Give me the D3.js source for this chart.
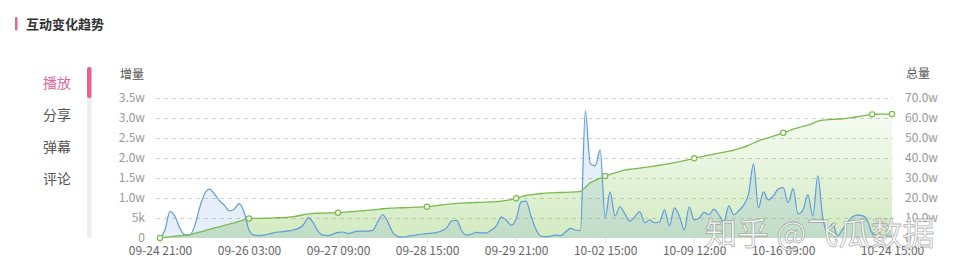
<!DOCTYPE html>
<html lang="zh">
<head>
<meta charset="utf-8">
<title>互动变化趋势</title>
<script src="https://cdn.jsdelivr.net/npm/d3@7/dist/d3.min.js"></script>
<style>
 body { margin: 0; background: #fff; font-family: "Noto Sans CJK SC", "Noto Sans", sans-serif; }
 svg { display: block; }
</style>
</head>
<body>
<script>
// tabs on the left
const tabs = ['播放', '分享', '弹幕', '评论'];

// x axis: tick labels and the category index they sit on
const xTickLabels = ['09-24 21:00', '09-26 03:00', '09-27 09:00', '09-28 15:00', '09-29 21:00',
                     '10-02 15:00', '10-09 12:00', '10-16 09:00', '10-24 15:00'];
const xTickIndex = [0, 18, 36, 54, 72, 90, 108, 126, 148];
const symbolIndex = [0, 18, 36, 54, 72, 90, 108, 126, 144, 148];

// left axis (增量)
const leftTicks = [0, 5000, 10000, 15000, 20000, 25000, 30000, 35000];
const leftTickLabels = ['0', '5k', '1.0w', '1.5w', '2.0w', '2.5w', '3.0w', '3.5w'];
// right axis (总量)
const rightTicks = [0, 100000, 200000, 300000, 400000, 500000, 600000, 700000];
const rightTickLabels = ['0', '10.0w', '20.0w', '30.0w', '40.0w', '50.0w', '60.0w', '70.0w'];

// 增量 (in w = 10k), one value per category
const increment = [
  0, 0.2, 0.66, 0.55, 0.25, 0.08, 0.07, 0.3, 0.75, 1.1,
  1.22, 1.1, 0.93, 0.82, 0.68, 0.72, 0.86, 0.65, 0.2, 0.07,
  0.06, 0.07, 0.1, 0.13, 0.15, 0.16, 0.18, 0.2, 0.24, 0.33,
  0.51, 0.38, 0.16, 0.07, 0.06, 0.1, 0.14, 0.15, 0.11, 0.14,
  0.17, 0.17, 0.17, 0.19, 0.4, 0.58, 0.42, 0.15, 0.04, 0.02,
  0.04, 0.06, 0.08, 0.1, 0.11, 0.12, 0.14, 0.18, 0.26, 0.43,
  0.44, 0.18, 0.07, 0.1, 0.14, 0.13, 0.13, 0.2, 0.3, 0.52,
  0.45, 0.32, 0.47, 0.9, 0.92, 0.55, 0.22, 0.05, 0.03, 0.05,
  0.07, 0.06, 0.15, 0.24, 0.2, 0.18, 3.17, 1.85, 1.8, 2.2,
  0.5, 1.15, 0.55, 0.78, 0.6, 0.42, 0.53, 0.66, 0.38, 0.45,
  0.38, 0.4, 0.7, 0.3, 0.75, 0.55, 0.2, 0.78, 0.45, 0.5,
  0.64, 0.58, 0.72, 0.58, 0.4, 0.8, 0.58, 0.68, 0.82, 1.1,
  1.85, 0.75, 1.15, 0.95, 1.05, 1.22, 1.26, 0.88, 1.23, 0.6,
  0.7, 1.08, 0.55, 1.55, 0.5, 0.15, 0.35, 0.05, 0.22, 0.38,
  0.53, 0.57, 0.56, 0.45, 0.12, 0.06, 0.05, 0.05, 0.05
];

// 总量 (in w = 10k), one value per category
const total = [
  0, 0.3, 0.6, 0.9, 1.15, 1.4, 1.7, 2.3, 2.9, 3.6,
  4.3, 5.0, 5.6, 6.3, 6.9, 7.6, 8.3, 9.0, 9.7, 9.75,
  9.8, 9.85, 9.9, 10.0, 10.1, 10.2, 10.4, 10.7, 11.1, 11.6,
  12.0, 12.3, 12.35, 12.4, 12.5, 12.55, 12.6, 12.8, 13.0, 13.2,
  13.4, 13.6, 13.8, 14.0, 14.3, 14.6, 14.8, 14.9, 15.0, 15.1,
  15.2, 15.3, 15.4, 15.5, 15.6, 15.9, 16.2, 16.5, 16.8, 17.0,
  17.3, 17.4, 17.5, 17.6, 17.7, 17.8, 17.9, 18.0, 18.1, 18.4,
  18.8, 19.2, 19.8, 20.5, 21.2, 21.6, 21.9, 22.2, 22.4, 22.5,
  22.6, 22.7, 22.8, 22.9, 23.0, 23.2, 25.3, 27.6, 28.8, 29.8,
  30.9, 31.7, 32.5, 33.3, 33.9, 34.3, 34.6, 34.9, 35.2, 35.6,
  35.9, 36.3, 36.7, 37.1, 37.6, 38.1, 38.6, 39.2, 39.8, 40.3,
  40.8, 41.3, 41.8, 42.3, 42.8, 43.3, 43.9, 44.6, 45.3, 46.2,
  47.4, 48.5, 49.3, 50.0, 50.8, 51.6, 52.5, 53.3, 54.3, 55.0,
  55.7, 56.3, 57.2, 58.3, 58.8, 59.0, 59.2, 59.3, 59.5, 59.8,
  60.1, 60.5, 60.9, 61.3, 61.7, 61.75, 61.8, 61.85, 61.9
];

const W = 956, H = 274;
const svg = d3.select('body').append('svg').attr('width', W).attr('height', H);

// title
svg.append('rect').attr('x', 15).attr('y', 17).attr('width', 2.5).attr('height', 13.5)
   .attr('rx', 1).style('fill', '#e9628f');
svg.append('text').attr('x', 26).attr('y', 29)
   .style('font-size', '13px').style('font-weight', 'bold').style('fill', '#333')
   .text('互动变化趋势');

// tabs
svg.selectAll('.tab').data(tabs).enter().append('text')
   .attr('class', 'tab')
   .attr('x', 57).attr('y', (d, i) => 88 + i * 32)
   .attr('text-anchor', 'middle')
   .style('font-size', '14px')
   .style('fill', (d, i) => i === 0 ? '#e0689a' : '#555')
   .text(d => d);
svg.append('rect').attr('x', 87).attr('y', 67).attr('width', 4.5).attr('height', 171).style('fill', '#eeeeee');
svg.append('rect').attr('x', 87).attr('y', 67).attr('width', 4.5).attr('height', 31).attr('rx', 2).style('fill', '#e9628f');

// scales
const x = d3.scaleLinear().domain([0, increment.length - 1]).range([160, 892]);
const yL = d3.scaleLinear().domain([0, 35000]).range([238, 97.7]);
const yR = d3.scaleLinear().domain([0, 700000]).range([238, 97.7]);

// grid
svg.append('g').selectAll('line').data(leftTicks.slice(1)).enter().append('line')
   .attr('x1', 156).attr('x2', 893)
   .attr('y1', d => Math.round(yL(d)) + 0.5).attr('y2', d => Math.round(yL(d)) + 0.5)
   .style('stroke', '#cfcfcf').style('stroke-dasharray', '4,4');

// left axis
const axL = svg.append('g').attr('transform', 'translate(150,0)')
   .call(d3.axisLeft(yL).tickValues(leftTicks).tickSize(0).tickPadding(5)
         .tickFormat((d, i) => leftTickLabels[i]));
axL.select('.domain').remove();
axL.selectAll('text').style('font-size', '12px').style('fill', '#999')
   .style('font-family', '"Noto Sans CJK SC", sans-serif');

// right axis
const axR = svg.append('g').attr('transform', 'translate(900,0)')
   .call(d3.axisRight(yR).tickValues(rightTicks).tickSize(0).tickPadding(5)
         .tickFormat((d, i) => rightTickLabels[i]));
axR.select('.domain').remove();
axR.selectAll('text').style('font-size', '12px').style('fill', '#999')
   .style('font-family', '"Noto Sans CJK SC", sans-serif');

// axis names
svg.append('text').attr('x', 132).attr('y', 79).attr('text-anchor', 'middle')
   .style('font-size', '12px').style('fill', '#555').text('增量');
svg.append('text').attr('x', 918).attr('y', 78).attr('text-anchor', 'middle')
   .style('font-size', '12px').style('fill', '#555').text('总量');

// x axis
const axX = svg.append('g').attr('transform', 'translate(0,238)')
   .call(d3.axisBottom(x).tickValues(xTickIndex).tickSize(5).tickPadding(3)
         .tickFormat((d, i) => xTickLabels[i]));
axX.select('.domain').remove();
axX.selectAll('line').style('stroke', '#e2e2e2');
axX.selectAll('text').style('font-size', '12px').style('fill', '#666')
   .style('font-family', '"Noto Sans CJK SC", sans-serif');

// gradient for total area
const defs = svg.append('defs');
const grad = defs.append('linearGradient').attr('id', 'gGreen')
   .attr('x1', 0).attr('y1', 0).attr('x2', 0).attr('y2', 1);
grad.append('stop').attr('offset', '0%').style('stop-color', '#8cc95c').style('stop-opacity', 0.08);
grad.append('stop').attr('offset', '100%').style('stop-color', '#8cc95c').style('stop-opacity', 0.38);

// total area + line
const areaT = d3.area().x((d, i) => x(i)).y0(238).y1(d => yR(d * 10000)).curve(d3.curveMonotoneX);
const lineT = d3.line().x((d, i) => x(i)).y(d => yR(d * 10000)).curve(d3.curveMonotoneX);
svg.append('path').datum(total).attr('d', areaT).style('fill', 'url(#gGreen)');

// increment area + line
const areaI = d3.area().x((d, i) => x(i)).y0(238).y1(d => yL(d * 10000)).curve(d3.curveMonotoneX);
const lineI = d3.line().x((d, i) => x(i)).y(d => yL(d * 10000)).curve(d3.curveMonotoneX);
svg.append('path').datum(increment).attr('d', areaI).style('fill', '#6fa3dc').style('fill-opacity', 0.18);
svg.append('path').datum(increment).attr('d', lineI)
   .style('fill', 'none').style('stroke', '#5f9cd9').style('stroke-width', 1.2);

svg.append('path').datum(total).attr('d', lineT)
   .style('fill', 'none').style('stroke', '#79bb4a').style('stroke-width', 1.3);

// symbols on the total line
svg.selectAll('.sym').data(symbolIndex).enter().append('circle')
   .attr('class', 'sym')
   .attr('cx', d => x(d)).attr('cy', d => yR(total[d] * 10000)).attr('r', 2.6)
   .style('fill', '#fff').style('stroke', '#79bb4a').style('stroke-width', 1.2);

// watermark
svg.append('text').attr('x', 705).attr('y', 245)
   .style('font-size', '32px').style('fill', 'rgba(255,255,255,0.9)')
   .style('stroke', 'rgba(110,110,110,0.55)').style('stroke-width', 0.8)
   .text('知乎 @飞瓜数据');
</script>
</body>
</html>
